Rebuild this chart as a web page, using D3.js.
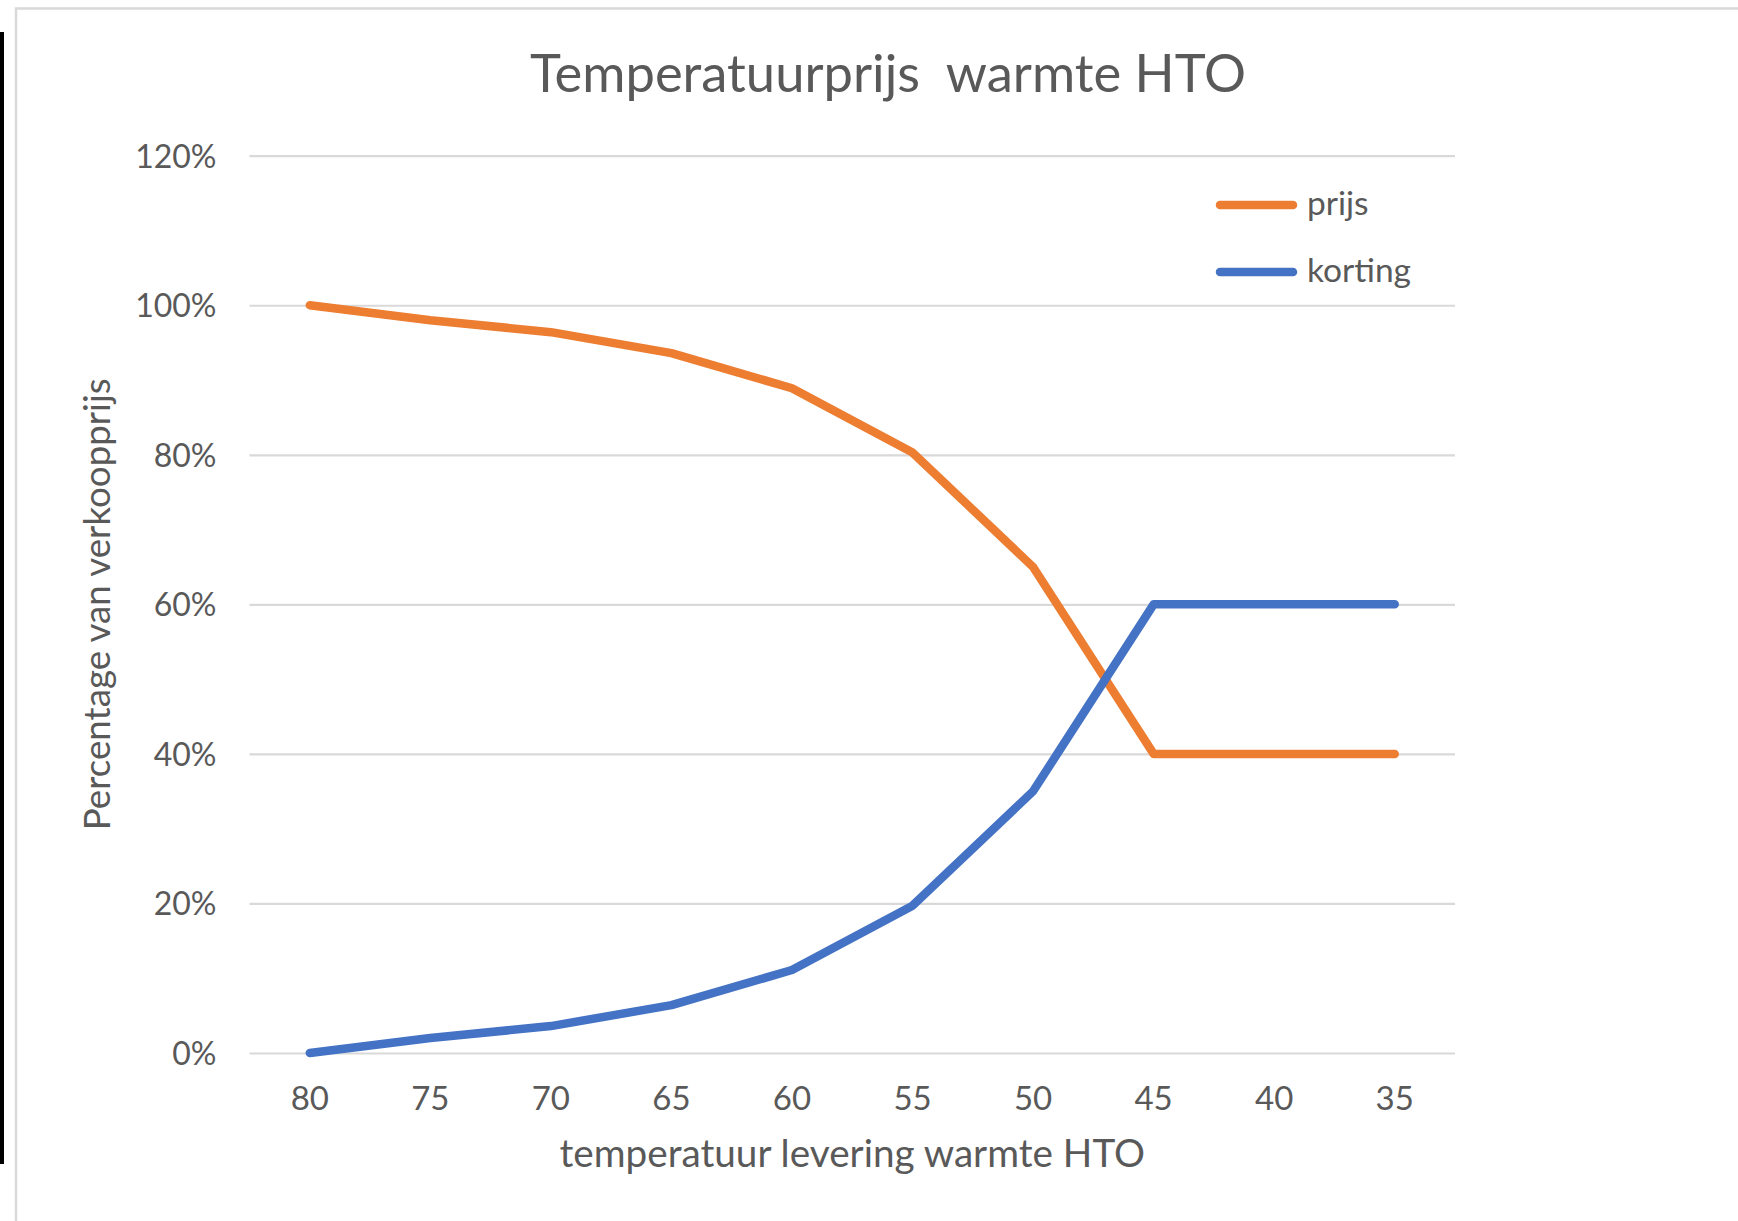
<!DOCTYPE html>
<html>
<head>
<meta charset="utf-8">
<script src="https://cdn.jsdelivr.net/npm/d3@7"></script>
<style>
  body { margin: 0; background: #fff; }
  text { font-family: Lato, "Open Sans", sans-serif; fill: #595959; }
</style>
</head>
<body>
<div id="chart"></div>
<script>
// Data
const temps = ["80", "75", "70", "65", "60", "55", "50", "45", "40", "35"];
const prijs = [1.00, 0.98, 0.964, 0.936, 0.889, 0.803, 0.650, 0.40, 0.40, 0.40];
const korting = [0.00, 0.02, 0.036, 0.064, 0.111, 0.197, 0.350, 0.60, 0.60, 0.60];
const yTicks = [0, 0.2, 0.4, 0.6, 0.8, 1.0, 1.2];
const seriesNames = ["prijs", "korting"];
const seriesColors = ["#ED7D31", "#4472C4"];

const width = 1738;
const height = 1221;
const margin = { top: 155.7, right: 283, bottom: 168, left: 249.5 };
const chartWidth = width - margin.left - margin.right;
const chartHeight = height - margin.top - margin.bottom;

const svg = d3.select("#chart")
    .append("svg")
    .attr("width", width)
    .attr("height", height);

// Outer frame of the screenshot
svg.append("rect")
    .attr("x", 16)
    .attr("y", 8.5)
    .attr("width", width + 40)
    .attr("height", height + 40)
    .attr("fill", "none")
    .attr("stroke", "#d9d9d9")
    .attr("stroke-width", 2.5);

svg.append("rect")
    .attr("x", 0)
    .attr("y", 32)
    .attr("width", 4)
    .attr("height", 1132)
    .attr("fill", "#000");

const chart = svg.append("g")
    .attr("transform", `translate(${margin.left}, ${margin.top})`);

// Scales
const xScale = d3.scaleBand()
    .domain(temps)
    .range([0, chartWidth]);

const yScale = d3.scaleLinear()
    .domain([0, 1.2])
    .range([chartHeight, 0]);

// Y axis with gridlines
const yAxis = d3.axisLeft(yScale)
    .tickValues(yTicks)
    .tickFormat(d3.format(".0%"))
    .tickSize(-chartWidth)
    .tickPadding(33);

const yG = chart.append("g").call(yAxis);
yG.select(".domain").remove();
yG.selectAll(".tick line")
    .attr("stroke", "#d9d9d9")
    .attr("stroke-width", 2.2);
yG.selectAll(".tick text")
    .attr("dy", "0.36em")
    .style("font-size", "32px")
    .style("fill", "#595959");

// X axis
const xAxis = d3.axisBottom(xScale).tickSize(0).tickPadding(34);
const xG = chart.append("g")
    .attr("transform", `translate(0, ${chartHeight})`)
    .call(xAxis);
xG.select(".domain").remove();
xG.selectAll(".tick text")
    .style("font-size", "33px")
    .style("fill", "#595959");

// Lines
const series = [prijs, korting];
const line = d3.line()
    .x((d, i) => xScale(temps[i]) + xScale.bandwidth() / 2)
    .y(d => yScale(d));

series.forEach((values, k) => {
    chart.append("path")
        .datum(values)
        .attr("fill", "none")
        .attr("stroke", seriesColors[k])
        .attr("stroke-width", 8.5)
        .attr("stroke-linecap", "round")
        .attr("stroke-linejoin", "round")
        .attr("d", line);
});

// Title and axis labels
svg.append("text")
    .attr("x", 888)
    .attr("y", 92)
    .attr("text-anchor", "middle")
    .style("font-size", "52.5px")
    .style("white-space", "pre")
    .text("Temperatuurprijs  warmte HTO");

svg.append("text")
    .attr("x", margin.left + chartWidth / 2)
    .attr("y", 1167)
    .attr("text-anchor", "middle")
    .style("font-size", "38.7px")
    .text("temperatuur levering warmte HTO");

svg.append("text")
    .attr("transform", `translate(110, ${margin.top + chartHeight / 2}) rotate(-90)`)
    .attr("text-anchor", "middle")
    .style("font-size", "36.7px")
    .text("Percentage van verkoopprijs");

// Legend
const legend = svg.append("g")
    .attr("transform", "translate(1220, 205)");

seriesNames.forEach((name, k) => {
    const row = legend.append("g")
        .attr("transform", `translate(0, ${k * 67})`);
    row.append("line")
        .attr("x1", 0)
        .attr("x2", 73)
        .attr("stroke", seriesColors[k])
        .attr("stroke-width", 8.5)
        .attr("stroke-linecap", "round");
    row.append("text")
        .attr("x", 87)
        .attr("y", 10)
        .style("font-size", "33.5px")
        .text(name);
});
</script>
</body>
</html>
